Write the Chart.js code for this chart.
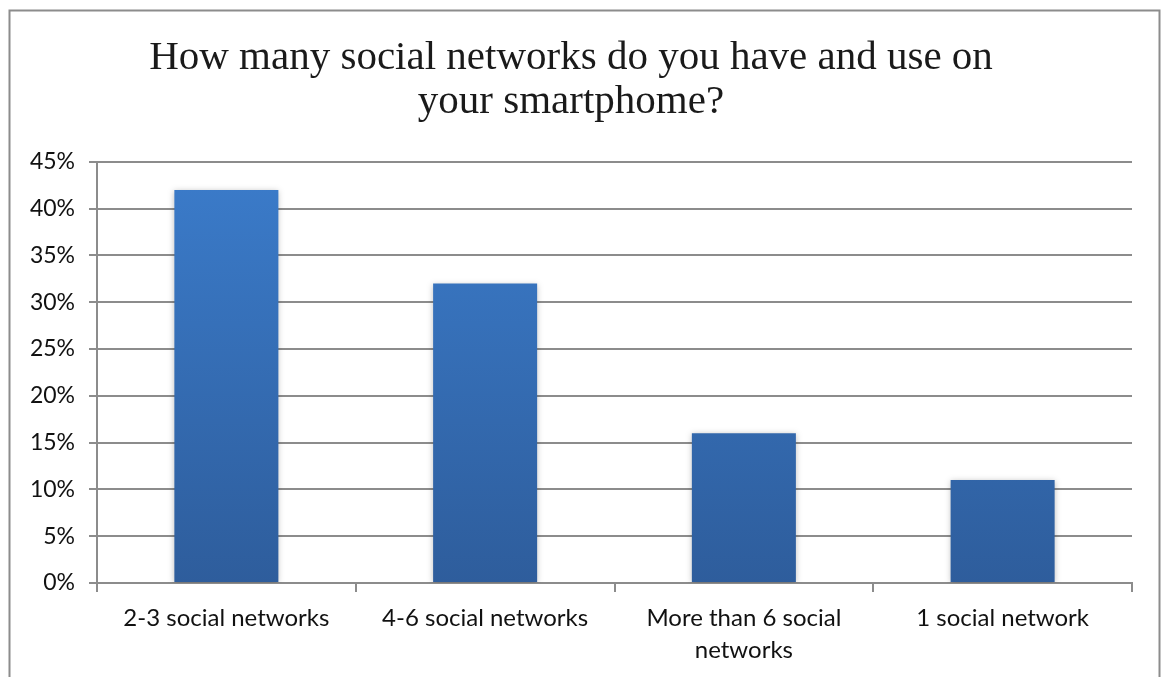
<!DOCTYPE html>
<html>
<head>
<meta charset="utf-8">
<script src="https://cdn.jsdelivr.net/npm/chart.js@4"></script>
<style>
  html, body { margin: 0; padding: 0; background: #fff; }
  #wrap { width: 1163px; height: 677px; position: relative; }
</style>
</head>
<body>
<div id="wrap"><canvas id="chart"></canvas></div>
<script>
// data
const categories = [
  "2-3 social networks",
  "4-6 social networks",
  ["More than 6 social", "networks"],
  "1 social network"
];
const shares = [42, 32, 16, 11];
const tickStep = 5;
const tickMax = 45;

const titleLines = [
  "How many social networks do you have and use on",
  "your smartphome?"
];

// outer frame like the spreadsheet chart box
const framePlugin = {
  id: "frame",
  afterDraw(chart) {
    const ctx = chart.ctx;
    ctx.save();
    ctx.strokeStyle = "#8c8c8c";
    ctx.lineWidth = 2;
    ctx.strokeRect(9.5, 10.5, 1150, 700);
    ctx.restore();
  }
};

// soft shadow behind bars
const shadowPlugin = {
  id: "barShadow",
  beforeDatasetsDraw(chart) {
    const ctx = chart.ctx;
    ctx.save();
    ctx.shadowColor = "rgba(0,0,0,0.25)";
    ctx.shadowBlur = 6;
    ctx.shadowOffsetX = 0;
    ctx.shadowOffsetY = 1;
  },
  afterDatasetsDraw(chart) {
    chart.ctx.restore();
  }
};

function barGradient(context) {
  const chart = context.chart;
  const area = chart.chartArea;
  if (!area) return "#3a7bc9";
  const el = context.element;
  const top = el && el.y != null ? el.y : area.top;
  const g = chart.ctx.createLinearGradient(0, top, 0, area.bottom);
  g.addColorStop(0, "#3b7ccb");
  g.addColorStop(1, "#2e5d9c");
  return g;
}

const fontFamily = "Lato, 'Open Sans', sans-serif";

new Chart(document.getElementById("chart"), {
  type: "bar",
  data: {
    labels: categories,
    datasets: [{
      data: shares,
      backgroundColor: barGradient,
      borderWidth: 0,
      barPercentage: 0.67,
      categoryPercentage: 0.6
    }]
  },
  options: {
    responsive: true,
    maintainAspectRatio: false,
    animation: false,
    events: [],
    layout: { padding: { left: 10, right: 31, top: 0, bottom: 0 } },
    plugins: {
      legend: { display: false },
      tooltip: { enabled: false },
      title: {
        display: true,
        text: titleLines,
        color: "#1a1a1a",
        font: { family: "'Liberation Serif', 'DejaVu Serif', serif", size: 41, weight: "normal", lineHeight: 1.06 },
        padding: { top: 37, bottom: 38 }
      }
    },
    scales: {
      x: {
        grid: {
          display: true,
          drawOnChartArea: false,
          drawTicks: true,
          tickLength: 9,
          color: "#8c8c8c",
          lineWidth: 2,
          offset: true
        },
        border: { display: true, color: "#8c8c8c", width: 2 },
        ticks: {
          color: "#111",
          font: { family: fontFamily, size: 24, lineHeight: 1.33 },
          padding: 10,
          maxRotation: 0,
          autoSkip: false
        },
        afterFit(scale) { scale.height = 94; }
      },
      y: {
        min: 0,
        max: tickMax,
        grid: {
          color: "#8c8c8c",
          lineWidth: 2,
          drawTicks: true,
          tickLength: 8
        },
        border: { display: true, color: "#8c8c8c", width: 2 },
        ticks: {
          stepSize: tickStep,
          color: "#111",
          font: { family: fontFamily, size: 23 },
          padding: 14,
          callback: v => v + "%"
        },
        afterFit(scale) { scale.width = 87; }
      }
    }
  },
  plugins: [framePlugin, shadowPlugin]
});
</script>
</body>
</html>
